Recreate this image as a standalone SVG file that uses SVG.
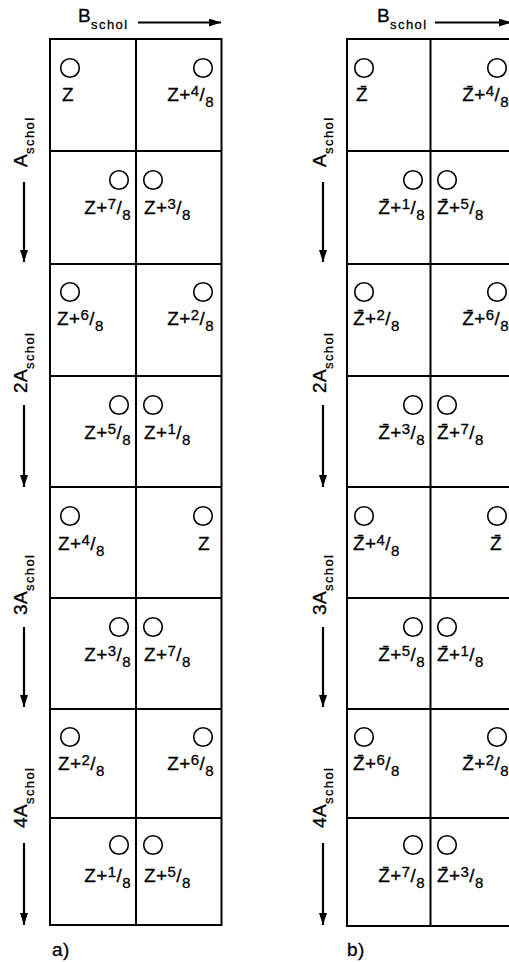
<svg xmlns="http://www.w3.org/2000/svg" width="509" height="962" viewBox="0 0 509 962">
<defs>
<style>
.grid{fill:none;stroke:#000;stroke-width:2}
.hole{fill:#fff;stroke:#000;stroke-width:1.6}
text{font-family:"Liberation Sans",Arial,sans-serif;font-size:19px;fill:#000;stroke:#000;stroke-width:0.3;letter-spacing:0.4px}
.sm{font-size:15px}
.sub{font-size:13px;letter-spacing:1.4px}
.arr{stroke:#000;stroke-width:2.2;fill:none}
.m{text-anchor:middle}
.e{text-anchor:end}
</style>
<marker id="ah" markerUnits="userSpaceOnUse" markerWidth="12" markerHeight="8" refX="12" refY="4" orient="auto">
<path d="M0,0 L12,4 L0,8 Z" fill="#000"/>
</marker>
</defs>
<rect width="509" height="962" fill="#fff"/>

<g id="panel-a">
<g id="a-grid">
<rect class="grid" x="50" y="39" width="171.5" height="886"/>
<path class="grid" d="M136,39V925M50,151H221.5M50,264H221.5M50,376H221.5M50,487H221.5M50,598H221.5M50,709H221.5M50,818H221.5"/>
</g>
<g id="a-r0">
<circle class="hole" cx="70" cy="68" r="9.3"/><text class="m" x="68" y="101">Z</text>
<circle class="hole" cx="203" cy="68" r="9.3"/><text class="e" x="214" y="101">Z+<tspan class="sm" dy="-5">4</tspan><tspan dy="5">/</tspan><tspan class="sm" dy="6">8</tspan></text>
</g>
<g id="a-r1">
<circle class="hole" cx="119" cy="180" r="9.3"/><text class="e" x="131" y="214">Z+<tspan class="sm" dy="-5">7</tspan><tspan dy="5">/</tspan><tspan class="sm" dy="6">8</tspan></text>
<circle class="hole" cx="153" cy="180" r="9.3"/><text x="144" y="214">Z+<tspan class="sm" dy="-5">3</tspan><tspan dy="5">/</tspan><tspan class="sm" dy="6">8</tspan></text>
</g>
<g id="a-r2">
<circle class="hole" cx="70" cy="292" r="9.3"/><text x="57" y="325">Z+<tspan class="sm" dy="-5">6</tspan><tspan dy="5">/</tspan><tspan class="sm" dy="6">8</tspan></text>
<circle class="hole" cx="203" cy="292" r="9.3"/><text class="e" x="214" y="325">Z+<tspan class="sm" dy="-5">2</tspan><tspan dy="5">/</tspan><tspan class="sm" dy="6">8</tspan></text>
</g>
<g id="a-r3">
<circle class="hole" cx="119" cy="405" r="9.3"/><text class="e" x="131" y="439">Z+<tspan class="sm" dy="-5">5</tspan><tspan dy="5">/</tspan><tspan class="sm" dy="6">8</tspan></text>
<circle class="hole" cx="153" cy="405" r="9.3"/><text x="144" y="439">Z+<tspan class="sm" dy="-5">1</tspan><tspan dy="5">/</tspan><tspan class="sm" dy="6">8</tspan></text>
</g>
<g id="a-r4">
<circle class="hole" cx="70" cy="516" r="9.3"/><text x="58" y="550">Z+<tspan class="sm" dy="-5">4</tspan><tspan dy="5">/</tspan><tspan class="sm" dy="6">8</tspan></text>
<circle class="hole" cx="203" cy="516" r="9.3"/><text class="m" x="204" y="550">Z</text>
</g>
<g id="a-r5">
<circle class="hole" cx="119" cy="627" r="9.3"/><text class="e" x="131" y="661">Z+<tspan class="sm" dy="-5">3</tspan><tspan dy="5">/</tspan><tspan class="sm" dy="6">8</tspan></text>
<circle class="hole" cx="153" cy="627" r="9.3"/><text x="144" y="661">Z+<tspan class="sm" dy="-5">7</tspan><tspan dy="5">/</tspan><tspan class="sm" dy="6">8</tspan></text>
</g>
<g id="a-r6">
<circle class="hole" cx="70" cy="737" r="9.3"/><text x="58" y="770">Z+<tspan class="sm" dy="-5">2</tspan><tspan dy="5">/</tspan><tspan class="sm" dy="6">8</tspan></text>
<circle class="hole" cx="203" cy="737" r="9.3"/><text class="e" x="214" y="770">Z+<tspan class="sm" dy="-5">6</tspan><tspan dy="5">/</tspan><tspan class="sm" dy="6">8</tspan></text>
</g>
<g id="a-r7">
<circle class="hole" cx="119" cy="845" r="9.3"/><text class="e" x="131" y="882">Z+<tspan class="sm" dy="-5">1</tspan><tspan dy="5">/</tspan><tspan class="sm" dy="6">8</tspan></text>
<circle class="hole" cx="153" cy="845" r="9.3"/><text x="144" y="882">Z+<tspan class="sm" dy="-5">5</tspan><tspan dy="5">/</tspan><tspan class="sm" dy="6">8</tspan></text>
</g>
<g id="a-labels">
<text x="78" y="21.5">B<tspan class="sub" dy="7">schol</tspan></text>
<text transform="translate(27,167) rotate(-90)">A<tspan class="sub" dy="7">schol</tspan></text>
<text transform="translate(27,393) rotate(-90)">2A<tspan class="sub" dy="7">schol</tspan></text>
<text transform="translate(27,615) rotate(-90)">3A<tspan class="sub" dy="7">schol</tspan></text>
<text transform="translate(27,828) rotate(-90)">4A<tspan class="sub" dy="7">schol</tspan></text>
<text x="52" y="956">a)</text>
</g>
</g>

<g id="panel-b">
<g id="b-grid">
<rect class="grid" x="347" y="39" width="167" height="887"/>
<path class="grid" d="M430.5,39V926M347,151H514M347,264H514M347,376H514M347,487H514M347,598H514M347,709H514M347,818H514"/>
</g>
<g id="b-r0">
<circle class="hole" cx="364" cy="68" r="9.3"/><text class="m" x="362" y="101">Z&#x304;</text>
<circle class="hole" cx="497" cy="68" r="9.3"/><text class="e" x="509" y="101">Z&#x304;+<tspan class="sm" dy="-5">4</tspan><tspan dy="5">/</tspan><tspan class="sm" dy="6">8</tspan></text>
</g>
<g id="b-r1">
<circle class="hole" cx="413" cy="180" r="9.3"/><text class="e" x="425" y="214">Z&#x304;+<tspan class="sm" dy="-5">1</tspan><tspan dy="5">/</tspan><tspan class="sm" dy="6">8</tspan></text>
<circle class="hole" cx="447" cy="180" r="9.3"/><text x="437" y="214">Z&#x304;+<tspan class="sm" dy="-5">5</tspan><tspan dy="5">/</tspan><tspan class="sm" dy="6">8</tspan></text>
</g>
<g id="b-r2">
<circle class="hole" cx="364" cy="292" r="9.3"/><text x="353" y="325">Z&#x304;+<tspan class="sm" dy="-5">2</tspan><tspan dy="5">/</tspan><tspan class="sm" dy="6">8</tspan></text>
<circle class="hole" cx="497" cy="292" r="9.3"/><text class="e" x="509" y="325">Z&#x304;+<tspan class="sm" dy="-5">6</tspan><tspan dy="5">/</tspan><tspan class="sm" dy="6">8</tspan></text>
</g>
<g id="b-r3">
<circle class="hole" cx="413" cy="405" r="9.3"/><text class="e" x="425" y="439">Z&#x304;+<tspan class="sm" dy="-5">3</tspan><tspan dy="5">/</tspan><tspan class="sm" dy="6">8</tspan></text>
<circle class="hole" cx="447" cy="405" r="9.3"/><text x="437" y="439">Z&#x304;+<tspan class="sm" dy="-5">7</tspan><tspan dy="5">/</tspan><tspan class="sm" dy="6">8</tspan></text>
</g>
<g id="b-r4">
<circle class="hole" cx="364" cy="516" r="9.3"/><text x="353" y="550">Z&#x304;+<tspan class="sm" dy="-5">4</tspan><tspan dy="5">/</tspan><tspan class="sm" dy="6">8</tspan></text>
<circle class="hole" cx="497" cy="516" r="9.3"/><text class="m" x="496" y="550">Z&#x304;</text>
</g>
<g id="b-r5">
<circle class="hole" cx="413" cy="627" r="9.3"/><text class="e" x="425" y="661">Z&#x304;+<tspan class="sm" dy="-5">5</tspan><tspan dy="5">/</tspan><tspan class="sm" dy="6">8</tspan></text>
<circle class="hole" cx="447" cy="627" r="9.3"/><text x="437" y="661">Z&#x304;+<tspan class="sm" dy="-5">1</tspan><tspan dy="5">/</tspan><tspan class="sm" dy="6">8</tspan></text>
</g>
<g id="b-r6">
<circle class="hole" cx="364" cy="737" r="9.3"/><text x="353" y="770">Z&#x304;+<tspan class="sm" dy="-5">6</tspan><tspan dy="5">/</tspan><tspan class="sm" dy="6">8</tspan></text>
<circle class="hole" cx="497" cy="737" r="9.3"/><text class="e" x="509" y="770">Z&#x304;+<tspan class="sm" dy="-5">2</tspan><tspan dy="5">/</tspan><tspan class="sm" dy="6">8</tspan></text>
</g>
<g id="b-r7">
<circle class="hole" cx="413" cy="845" r="9.3"/><text class="e" x="425" y="882">Z&#x304;+<tspan class="sm" dy="-5">7</tspan><tspan dy="5">/</tspan><tspan class="sm" dy="6">8</tspan></text>
<circle class="hole" cx="447" cy="845" r="9.3"/><text x="437" y="882">Z&#x304;+<tspan class="sm" dy="-5">3</tspan><tspan dy="5">/</tspan><tspan class="sm" dy="6">8</tspan></text>
</g>
<g id="b-labels">
<text x="377" y="21.5">B<tspan class="sub" dy="7">schol</tspan></text>
<text transform="translate(326,167) rotate(-90)">A<tspan class="sub" dy="7">schol</tspan></text>
<text transform="translate(326,393) rotate(-90)">2A<tspan class="sub" dy="7">schol</tspan></text>
<text transform="translate(326,615) rotate(-90)">3A<tspan class="sub" dy="7">schol</tspan></text>
<text transform="translate(326,828) rotate(-90)">4A<tspan class="sub" dy="7">schol</tspan></text>
<text x="347" y="956">b)</text>
</g>
</g>

<g id="connectors">
<line class="arr" x1="138" y1="22.5" x2="221" y2="22.5" marker-end="url(#ah)"/>
<line class="arr" x1="24" y1="182" x2="24" y2="262" marker-end="url(#ah)"/>
<line class="arr" x1="24" y1="405" x2="24" y2="487" marker-end="url(#ah)"/>
<line class="arr" x1="24" y1="627" x2="24" y2="707" marker-end="url(#ah)"/>
<line class="arr" x1="24" y1="843" x2="24" y2="925" marker-end="url(#ah)"/>
<line class="arr" x1="435" y1="22.5" x2="511" y2="22.5" marker-end="url(#ah)"/>
<line class="arr" x1="323" y1="182" x2="323" y2="262" marker-end="url(#ah)"/>
<line class="arr" x1="323" y1="405" x2="323" y2="487" marker-end="url(#ah)"/>
<line class="arr" x1="323" y1="627" x2="323" y2="707" marker-end="url(#ah)"/>
<line class="arr" x1="323" y1="843" x2="323" y2="925" marker-end="url(#ah)"/>
</g>
</svg>
